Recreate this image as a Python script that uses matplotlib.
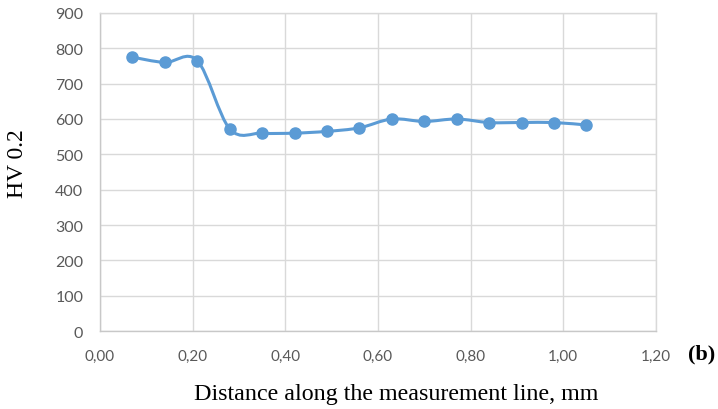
import numpy as np
import matplotlib
matplotlib.use("Agg")
import matplotlib.pyplot as plt
from matplotlib.path import Path
from matplotlib.patches import PathPatch

# hardness profile
distance = [0.07, 0.14, 0.21, 0.28, 0.35, 0.42, 0.49, 0.56, 0.63, 0.70,
            0.77, 0.84, 0.91, 0.98, 1.05]
hv = [775, 760, 765, 572, 560, 560, 565, 575, 600, 593, 600, 590, 590, 590, 583]

x_ticks = [0.0, 0.2, 0.4, 0.6, 0.8, 1.0, 1.2]
x_labels = ["0,00", "0,20", "0,40", "0,60", "0,80", "1,00", "1,20"]
y_ticks = [0, 100, 200, 300, 400, 500, 600, 700, 800, 900]

BLUE = "#5B9BD5"
GRID = "#D9D9D9"
TICK = "#595959"


def smooth_path(xs, ys):
    # Excel-like smoothed line: cubic bezier segments (Catmull-Rom control points)
    p = np.column_stack([xs, ys]).astype(float)
    n = len(p)
    verts = [p[0]]
    codes = [Path.MOVETO]
    for i in range(n - 1):
        p0 = p[i - 1] if i > 0 else p[i]
        p3 = p[i + 2] if i + 2 < n else p[i + 1]
        c1 = p[i] + (p[i + 1] - p0) / 6
        c2 = p[i + 1] - (p3 - p[i]) / 6
        verts += [c1, c2, p[i + 1]]
        codes += [Path.CURVE4] * 3
    return Path(verts, codes)


fig = plt.figure(figsize=(7.18, 4.10), dpi=100)
ax = fig.add_axes([0.1393, 0.1902, 0.7743, 0.7757])

ax.set_xlim(0, 1.2)
ax.set_ylim(0, 900)
ax.set_xticks(x_ticks)
ax.set_xticklabels(x_labels)
ax.set_yticks(y_ticks)

ax.grid(True, color=GRID, linewidth=1.0)
ax.set_axisbelow(True)
for side in ["top", "right"]:
    ax.spines[side].set_color(GRID)
    ax.spines[side].set_linewidth(1.0)
for side in ["left", "bottom"]:
    ax.spines[side].set_color("#C8C8C8")
    ax.spines[side].set_linewidth(1.0)
ax.tick_params(axis="y", length=0, pad=12, labelsize=11.5, labelcolor=TICK)
ax.tick_params(axis="x", length=0, pad=13, labelsize=11, labelcolor=TICK)
for lab in ax.get_xticklabels() + ax.get_yticklabels():
    lab.set_fontfamily("Lato")

ax.add_patch(PathPatch(smooth_path(distance, hv), facecolor="none",
                       edgecolor=BLUE, linewidth=2.2, zorder=3))
ax.plot(distance, hv, "o", color=BLUE, markersize=8, zorder=4)

# axis titles placed in figure coords to match the original layout
fig.text(0.025, 0.60, "HV 0.2", fontfamily="Liberation Serif", fontsize=17,
         rotation=90, ha="center", va="center")
fig.text(0.5515, 0.0244, "Distance along the measurement line, mm",
         fontfamily="Liberation Serif", fontsize=17.3, ha="center", va="baseline")
fig.text(0.958, 0.135, "(b)", fontfamily="Liberation Serif", fontsize=16,
         fontweight="bold", ha="left", va="center")

fig.savefig("out.png", dpi=100)
